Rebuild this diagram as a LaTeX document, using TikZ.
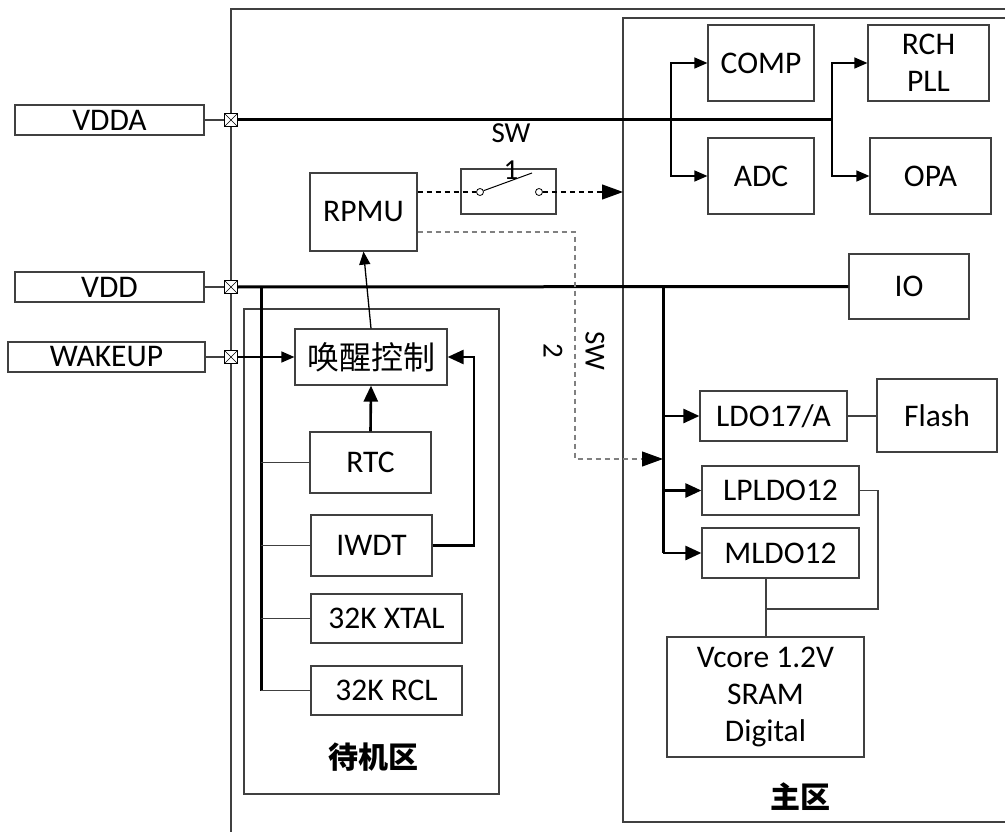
\documentclass[tikz,border=0pt]{standalone}
\usepackage{fontspec}
\setmainfont{Carlito}
\newfontfamily\cjk{Noto Sans CJK SC}
\usetikzlibrary{arrows.meta,calc}
\definecolor{ln}{gray}{0.25}
\begin{document}
\begin{tikzpicture}[x=1pt,y=-1pt,
  box/.style={draw=ln, line width=1.2pt, rectangle, inner sep=0pt, align=center,
    font=\fontsize{31.5}{37}\selectfont},
  pinbox/.style={draw=black, line width=0.9pt, rectangle, minimum size=13pt, inner sep=0pt, fill=white,
    path picture={\draw[line width=0.6pt] (path picture bounding box.north west)--(path picture bounding box.south east)
      (path picture bounding box.north east)--(path picture bounding box.south west);}},
  thinl/.style={draw=ln, line width=1.2pt},
  thinb/.style={draw=black, line width=1.3pt},
  thickl/.style={draw=black, line width=3pt},
  tip/.style={-{Triangle[length=13pt,width=11pt]}},
  thicktip/.style={-{Triangle[length=16pt,width=14pt]}},
  bigtip/.style={-{Triangle[length=21pt,width=15pt]}},
  dashline/.style={line width=1.1pt, dash pattern=on 5pt off 4pt},
  lbl/.style={font=\fontsize{29}{37}\selectfont, align=center, inner sep=0pt},
  cjklbl/.style={font=\cjk\bfseries\fontsize{30}{36}\selectfont, inner sep=0pt}
]
\useasboundingbox (0,0) rectangle (1005,832);
\clip (0,0) rectangle (1005,832);

% region frames
\draw[draw=ln, line width=1.3pt] (231,845) -- (231,9) -- (1015,9);
\draw[draw=ln, line width=1.2pt] (1015,18) -- (623,18) -- (623,822) -- (1015,822);
\draw[draw=ln, line width=1.2pt] (244,309) rectangle (499,794);
\node[cjklbl] (lblS) at (373,757) {待机区};
\node[cjklbl] (lblM) at (800,797) {主区};

% external pins
\node[box, minimum width=189pt, minimum height=30pt] (vdda) at (109.5,120) {VDDA};
\node[box, minimum width=189pt, minimum height=30pt] (vdd) at (109.5,287) {VDD};
\node[box, minimum width=197pt, minimum height=30pt] (wake) at (106.5,357) {WAKEUP};
\node[pinbox] (pinA) at (231,120) {};
\node[pinbox] (pinD) at (231,287) {};
\node[pinbox] (pinW) at (231,357) {};
\draw[thinl] (vdda.east) -- (pinA.west);
\draw[thinl] (vdd.east) -- (pinD.west);
\draw[thinl] (wake.east) -- (pinW.west);

% analog blocks
\node[box, minimum width=106pt, minimum height=76pt] (comp) at (761,63) {COMP};
\node[box, minimum width=106pt, minimum height=76pt] (adc) at (761,176) {ADC};
\node[box, minimum width=121pt, minimum height=76pt] (rch) at (928.5,63) {RCH\\PLL};
\node[box, minimum width=121pt, minimum height=76pt] (opa) at (930.5,176) {OPA};
\coordinate (va) at (832,120);
\draw[thickl] (pinA.east) -- (va);
\draw[thinb, tip] (671,120) |- (comp.west);
\draw[thinb, tip] (671,120) |- (adc.west);
\draw[thinb, tip] (va) |- (rch.west);
\draw[thinb, tip] (va) |- (opa.west);

% RPMU and switches
\node[box, minimum width=107pt, minimum height=78pt] (rpmu) at (363.5,212) {RPMU};
\node[draw=ln, line width=1.2pt, rectangle, minimum width=95pt, minimum height=45pt, inner sep=0pt] (sw1) at (508.5,191.5) {};
\node[draw=black, circle, line width=0.8pt, minimum size=7pt, inner sep=0pt] (c1) at (480,192) {};
\node[draw=black, circle, line width=0.8pt, minimum size=7pt, inner sep=0pt] (c2) at (539,192) {};
\coordinate (blade) at (532,173);
\draw[draw=black, line width=1pt] (c1) -- (blade);
\node[lbl] (sw1lbl) at (511,152) {SW\\1};
\coordinate (mainin) at (623,192);
\draw[draw=black, dashline] (rpmu.east |- c1) -- (c1.west);
\draw[draw=black, dashline, bigtip] (c2.east) -- (mainin);

% IO / VDD bus
\node[box, minimum width=120pt, minimum height=65pt] (io) at (909,286.5) {IO};
\draw[thickl] (pinD.east) -- (io.west);

% standby region
\node[box, minimum width=152pt, minimum height=56pt, font=\cjk\fontsize{32}{36}\selectfont] (wk) at (371,357) {唤醒控制};
\node[box, minimum width=121pt, minimum height=61pt] (rtc) at (370.5,462.5) {RTC};
\node[box, minimum width=121pt, minimum height=61pt] (iwdt) at (371.5,545.5) {IWDT};
\node[box, minimum width=151pt, minimum height=49pt] (xtal) at (386.5,618.5) {32K XTAL};
\node[box, minimum width=151pt, minimum height=49pt] (rcl) at (386.5,690.5) {32K RCL};
\coordinate (sbtop) at (261,287);
\coordinate (sbbot) at (261,690.5);
\draw[thickl] (sbtop) -- (sbbot);
\draw[thinl] (sbbot) -- (rcl.west);
\draw[thinl] (261,462.5) -- (rtc.west);
\draw[thinl] (261,545.5) -- (iwdt.west);
\draw[thinl] (261,618.5) -- (xtal.west);
\draw[thinb, tip] (pinW.east) -- (wk.west);
\draw[thinb, tip] (wk.north) -- (rpmu.south);
\draw[draw=black, line width=2.6pt, thicktip] (rtc.north) -- (wk.south);
\draw[draw=black, line width=2.6pt, thicktip] (iwdt.east) -| (474,357) -- (wk.east);

% SW2
\coordinate (sw2a) at (575,232);
\coordinate (sw2b) at (575,459);
\draw[draw=gray, dashline] (rpmu.east |- sw2a) -- (sw2a) -- (sw2b) -- (645,459);
\draw[draw=black, line width=1pt, bigtip] (645,459) -- (663,459);
\node[lbl, font=\fontsize{29}{42}\selectfont, rotate=-90] (sw2lbl) at (574,351) {SW\\2};

% main region LDOs
\node[box, minimum width=147pt, minimum height=50pt] (ldo17) at (773.5,416) {LDO17/A};
\node[box, minimum width=120pt, minimum height=73pt] (flash) at (937,415.5) {Flash};
\node[box, minimum width=157pt, minimum height=49pt] (lpldo) at (780.5,490.5) {LPLDO12};
\node[box, minimum width=157pt, minimum height=50pt] (mldo) at (780.5,553) {MLDO12};
\node[box, minimum width=197pt, minimum height=120pt] (vcore) at (765.5,697) {Vcore 1.2V\\SRAM\\Digital};
\coordinate (mbtop) at (663,287);
\coordinate (mbbot) at (663,553);
\draw[thickl] (mbtop) -- (mbbot);
\draw[draw=black, line width=2.6pt, thicktip] (mbbot) -- (mldo.west);
\draw[draw=black, line width=2.6pt, thicktip] (663,416) -- (ldo17.west);
\draw[draw=black, line width=2.6pt, thicktip] (663,490.5) -- (lpldo.west);
\draw[thinl] (ldo17.east) -- (flash.west |- ldo17.east);
\coordinate (lpj) at (878,609);
\draw[thinl] (lpldo.east) -| (lpj) -- (766,609);
\draw[thinl] (mldo.south -| 766,0) -- (vcore.north -| 766,0);
\end{tikzpicture}
\end{document}
